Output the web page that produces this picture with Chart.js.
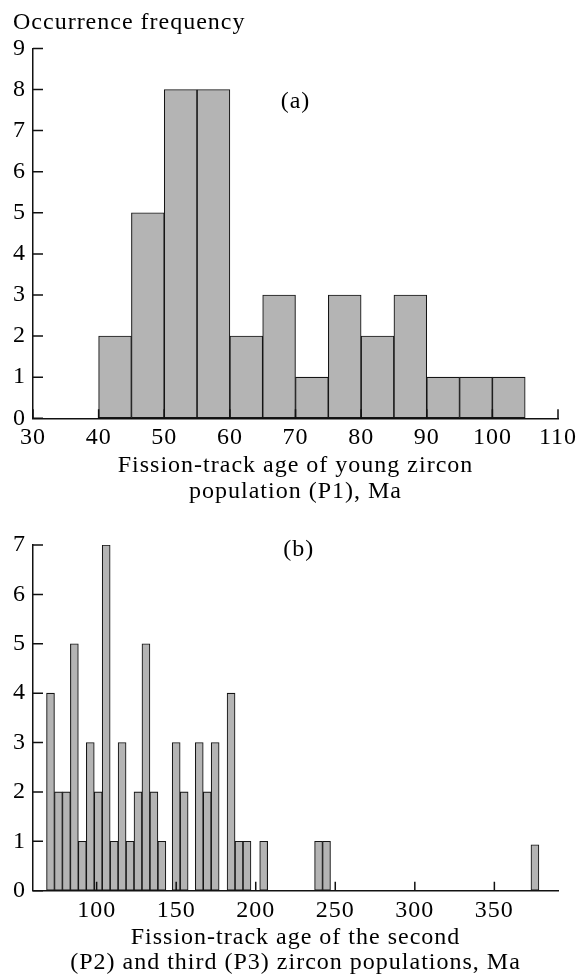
<!DOCTYPE html>
<html>
<head>
<meta charset="utf-8">
<script src="https://cdn.jsdelivr.net/npm/chart.js@4.4.1/dist/chart.umd.min.js"></script>
<style>
  html, body { margin: 0; padding: 0; background: #fff; }
  #wrapA { position: absolute; left: 0; top: 0; width: 585px; height: 505px; }
  #wrapB { position: absolute; left: 0; top: 505px; width: 585px; height: 473px; }
</style>
</head>
<body>
<div id="wrapA"><canvas id="chartA"></canvas></div>
<div id="wrapB"><canvas id="chartB"></canvas></div>
<script>
// (a) young zircon population P1 - bin centres (Ma) and counts
const binsA = [42.5, 47.5, 52.5, 57.5, 62.5, 67.5, 72.5, 77.5, 82.5, 87.5, 92.5, 97.5, 102.5];
const countsA = [2, 5, 8, 8, 2, 3, 1, 3, 2, 3, 1, 1, 1];
const xTicksA = [30, 40, 50, 60, 70, 80, 90, 100, 110];
const yTicksA = [0, 1, 2, 3, 4, 5, 6, 7, 8, 9];

// (b) second (P2) and third (P3) populations
const binsB = [71, 76, 81, 86, 91, 96, 101, 106, 111, 116, 121, 126, 131, 136, 141,
               150, 155, 164.5, 169.5, 174.5, 184.5, 189.5, 194.5, 205, 239.5, 244.5, 375.5];
const countsB = [4, 2, 2, 5, 1, 3, 2, 7, 1, 3, 1, 2, 5, 2, 1,
                 3, 2, 3, 2, 3, 4, 1, 1, 1, 1, 1, 0.93];
const xTicksB = [100, 150, 200, 250, 300, 350];
const yTicksB = [0, 1, 2, 3, 4, 5, 6, 7];

const FONT = "'Liberation Serif', 'Times New Roman', serif";
Chart.defaults.font.family = FONT;
Chart.defaults.font.size = 24;
Chart.defaults.color = '#000';

// small letter spacing to mimic the wide typesetting of the scan
const spacing = {
  id: 'spacing',
  beforeLayout(chart) { chart.ctx.letterSpacing = '1px'; },
  beforeDraw(chart) { chart.ctx.letterSpacing = '1px'; }
};

// tick marks point into the plot, plus the panel letter
const inwardTicks = {
  id: 'inwardTicks',
  afterDatasetsDraw(chart, args, opts) {
    const { ctx, chartArea } = chart;
    const xs = chart.scales.x, ys = chart.scales.y;
    ctx.save();
    ctx.strokeStyle = '#111';
    ctx.lineWidth = 1.5;
    ctx.beginPath();
    ys.ticks.forEach(t => {
      const y = ys.getPixelForValue(t.value);
      ctx.moveTo(chartArea.left, y);
      ctx.lineTo(chartArea.left + 10, y);
    });
    xs.ticks.forEach(t => {
      const x = xs.getPixelForValue(t.value);
      ctx.moveTo(x, chartArea.bottom);
      ctx.lineTo(x, chartArea.bottom - 9);
    });
    ctx.stroke();
    ctx.fillStyle = '#000';
    ctx.font = '24px ' + FONT;
    ctx.textAlign = 'center';
    ctx.textBaseline = 'middle';
    ctx.fillText(opts.label, xs.getPixelForValue(opts.at[0]), ys.getPixelForValue(opts.at[1]));
    ctx.restore();
  }
};

function histogram(id, bins, counts, xTicks, yTicks, xRange, xTitle, extra) {
  const ctx = document.getElementById(id).getContext('2d');
  return new Chart(ctx, {
    type: 'bar',
    data: {
      datasets: [{
        data: bins.map((b, i) => ({ x: b, y: counts[i] })),
        backgroundColor: '#b4b4b4',
        borderColor: '#151515',
        borderWidth: 1.1,
        borderSkipped: false,
        barPercentage: 1,
        categoryPercentage: 1
      }]
    },
    options: {
      responsive: true,
      maintainAspectRatio: false,
      animation: false,
      devicePixelRatio: 1,
      layout: { padding: extra.padding },
      plugins: {
        legend: { display: false },
        tooltip: { enabled: false },
        title: extra.title,
        inwardTicks: extra.panel
      },
      scales: {
        x: {
          type: 'linear',
          offset: false,
          min: xRange[0],
          max: xRange[1],
          afterBuildTicks: s => { s.ticks = xTicks.map(v => ({ value: v })); },
          afterFit: s => { s.height = extra.xHeight; },
          grid: { drawOnChartArea: false, drawTicks: false, offset: false },
          border: { color: '#111', width: 1.5 },
          ticks: { padding: 5.5, autoSkip: false, maxRotation: 0 },
          title: {
            display: true,
            text: xTitle,
            font: { size: 24, lineHeight: 1.05 },
            padding: { top: 0, bottom: extra.titlePad }
          }
        },
        y: {
          min: 0,
          max: yTicks[yTicks.length - 1],
          afterBuildTicks: s => { s.ticks = yTicks.map(v => ({ value: v })); },
          afterFit: s => { s.width = 20; },
          grid: { drawOnChartArea: false, drawTicks: false },
          border: { color: '#111', width: 1.5 },
          ticks: { padding: 7 }
        }
      }
    },
    plugins: [spacing, inwardTicks]
  });
}

histogram('chartA', binsA, countsA, xTicksA, yTicksA, [30, 110],
  ['Fission-track age of young zircon', 'population (P1), Ma'], {
    padding: { left: 13, right: 27, top: 0, bottom: 0 },
    title: {
      display: true,
      text: 'Occurrence frequency',
      align: 'start',
      font: { size: 24, weight: 'normal', lineHeight: 1.2 },
      padding: { top: 8.6, bottom: 11 }
    },
    xHeight: 86.7,
    titlePad: 1,
    panel: { label: '(a)', at: [70, 7.7] }
  });

histogram('chartB', binsB, countsB, xTicksB, yTicksB, [60, 390],
  ['Fission-track age of the second', '(P2) and third (P3) zircon populations, Ma'], {
    padding: { left: 13, right: 27, top: 40, bottom: 0 },
    title: { display: false },
    xHeight: 87.3,
    titlePad: 2.4,
    panel: { label: '(b)', at: [227, 6.9] }
  });
</script>
</body>
</html>
